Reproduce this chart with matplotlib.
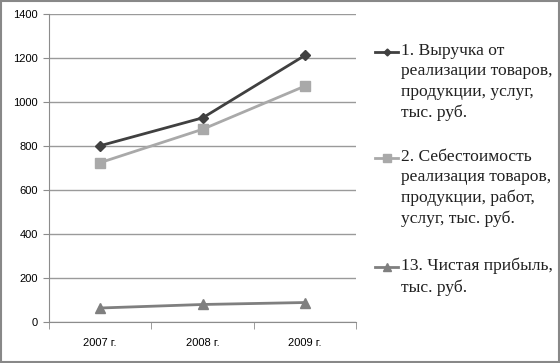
import matplotlib.pyplot as plt
from matplotlib.lines import Line2D
from matplotlib.patches import Rectangle

# data
years = ["2007 г.", "2008 г.", "2009 г."]
revenue = [801, 928, 1213]
cost = [724, 876, 1073]
profit = [62, 78, 87]

labels = [
    "1. Выручка от\nреализации товаров,\nпродукции, услуг,\nтыс. руб.",
    "2. Себестоимость\nреализация товаров,\nпродукции, работ,\nуслуг, тыс. руб.",
    "13. Чистая прибыль,\nтыс. руб.",
]
colors = ["#404040", "#a9a9a9", "#7f7f7f"]
markers = ["D", "s", "^"]
msizes = [5, 7, 7]

fig = plt.figure(figsize=(5.6, 3.63), dpi=100)
ax = fig.add_axes([0.0875, 0.114, 0.549, 0.847])

x = range(len(years))
for vals, c, m, ms in zip([revenue, cost, profit], colors, markers, msizes):
    ax.plot(x, vals, color=c, marker=m, markersize=ms, linewidth=2, zorder=3)

ax.set_xlim(-0.5, 2.5)
ax.set_ylim(0, 1400)
ax.set_yticks(range(0, 1401, 200))
ax.set_xticks(list(x))
ax.set_xticklabels(years)
ax.set_xticks([-0.5, 0.5, 1.5, 2.5], minor=True)
ax.grid(axis="y", color="#9a9a9a", linewidth=1)
ax.set_axisbelow(True)

for s in ["top", "right"]:
    ax.spines[s].set_visible(False)
ax.spines["left"].set_color("#8c8c8c")
ax.spines["bottom"].set_color("#8c8c8c")
ax.tick_params(axis="y", length=4, color="#8c8c8c", labelsize=8, pad=4)
ax.tick_params(axis="x", which="major", length=0, labelsize=8, pad=12)
ax.tick_params(axis="x", which="minor", length=5, color="#8c8c8c")
for t in ax.get_xticklabels() + ax.get_yticklabels():
    t.set_fontfamily("Liberation Sans")

# legend drawn by hand so the marker sits on the first text line
tops = [52, 158, 267]
for lab, c, m, ms, ytop in zip(labels, colors, markers, msizes, tops):
    yf = 1 - ytop / 363
    fig.add_artist(Line2D([375 / 560, 398 / 560], [yf, yf], color=c, linewidth=2,
                          transform=fig.transFigure))
    fig.add_artist(Line2D([386.5 / 560], [yf], color=c, marker=m, markersize=ms - 1.5,
                          transform=fig.transFigure))
    fig.text(401 / 560, yf + 9 / 363, lab, fontsize=12.6, family="Liberation Serif",
             color="#202020", va="top", ha="left", linespacing=1.36)

fig.add_artist(Rectangle((0.002, 0.004), 0.996, 0.992, fill=False, edgecolor="#888888",
                         linewidth=1.5, transform=fig.transFigure))

fig.savefig("out.png", dpi=100)
